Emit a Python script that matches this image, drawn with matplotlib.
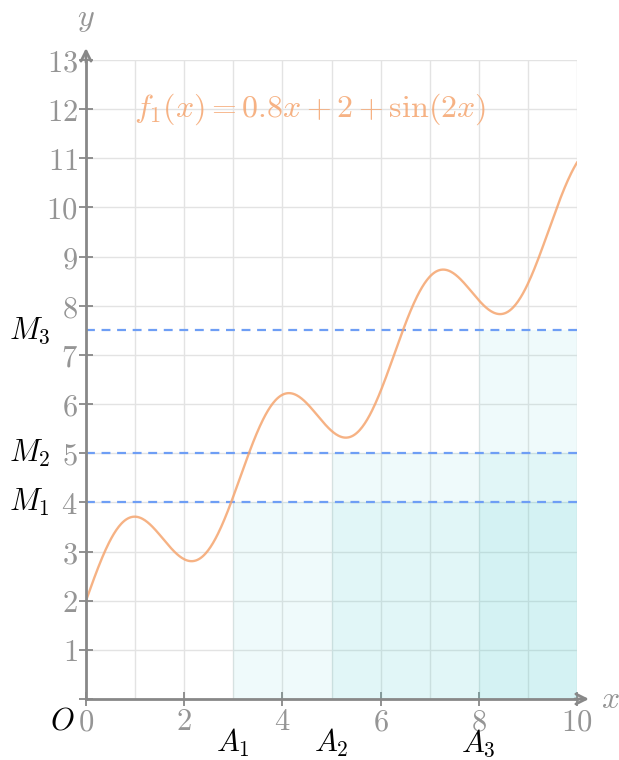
import numpy as np
import matplotlib.pyplot as plt
from matplotlib.ticker import MultipleLocator, FuncFormatter

plt.rcParams['mathtext.fontset'] = 'cm'

# function shown in the chart: f1(x) = a*x + b + sin(c*x)
slope, intercept, freq = 0.8, 2, 2
x_min, x_max = 0, 10
y_min, y_max = 0, 13

# shaded regions and levels
region_start = [3, 5, 8]
region_level = [4, 5, 7.5]
level_names = [r'$M_1$', r'$M_2$', r'$M_3$']
start_names = [r'$A_1$', r'$A_2$', r'$A_3$']

curve_color = '#f5a56f'
dash_color = '#6e9ef5'
fill_color = '#4fd0d2'
axis_color = '#888888'
tick_color = '#959595'

fig = plt.figure(figsize=(6.19, 7.6), dpi=100)
ax = fig.add_axes([86/619, 61/760, 491/619, 639/760])

xs = np.linspace(x_min, x_max, 600)
ax.plot(xs, slope*xs + intercept + np.sin(freq*xs), color=curve_color, lw=1.7, alpha=0.85, zorder=4)

for a, m in zip(region_start, region_level):
    ax.fill_between([a, x_max], 0, m, color=fill_color, alpha=0.085, lw=0, zorder=2)
    ax.axhline(m, color=dash_color, lw=1.6, ls=(0, (4, 3)), zorder=3)

ax.set_xlim(x_min, x_max)
ax.set_ylim(y_min, y_max)

ax.xaxis.set_major_locator(MultipleLocator(2))
ax.xaxis.set_minor_locator(MultipleLocator(1))
ax.yaxis.set_major_locator(MultipleLocator(1))
ax.xaxis.set_major_formatter(FuncFormatter(lambda v, p: r'$%d$' % v))
ax.yaxis.set_major_formatter(FuncFormatter(lambda v, p: '' if v == 0 else r'$%d$' % v))
ax.grid(True, which='both', color='#e3e3e3', lw=1, zorder=0)
ax.set_axisbelow(True)
ax.tick_params(which='major', direction='inout', length=10, width=1.3, color=axis_color,
               labelcolor=tick_color, labelsize=22)
ax.tick_params(axis='x', which='major', pad=1)
ax.tick_params(axis='y', which='major', pad=1)
ax.tick_params(which='minor', length=0)

for s in ['top', 'right']:
    ax.spines[s].set_visible(False)
for s in ['left', 'bottom']:
    ax.spines[s].set_color(axis_color)
    ax.spines[s].set_linewidth(2)
    ax.spines[s].set_zorder(5)

# arrows on the axes
ax.annotate('', xy=(x_max + 0.3, 0), xytext=(x_max - 0.1, 0), annotation_clip=False,
            arrowprops=dict(arrowstyle='->', color=axis_color, lw=2, mutation_scale=18))
ax.annotate('', xy=(0, y_max + 0.3), xytext=(0, y_max - 0.1), annotation_clip=False,
            arrowprops=dict(arrowstyle='->', color=axis_color, lw=2, mutation_scale=18))
ax.text(x_max + 0.67, 0, r'$x$', color=tick_color, fontsize=23, ha='center', va='center')
ax.text(0, y_max + 0.85, r'$y$', color=tick_color, fontsize=23, ha='center', va='center')
ax.text(-0.49, -0.45, r'$O$', color='black', fontsize=22, ha='center', va='center')

for a, m, mn, an in zip(region_start, region_level, level_names, start_names):
    ax.text(-1.15, m, mn, fontsize=22, ha='center', va='center', color='black')
    ax.text(a, -0.9, an, fontsize=22, ha='center', va='center', color='black')

ax.text(0.97, 12.0, r'$f_1(x) = 0.8x + 2 + \sin(2x)$', color=curve_color, alpha=0.85,
        fontsize=23, ha='left', va='center')

fig.savefig('out.png', dpi=100)
